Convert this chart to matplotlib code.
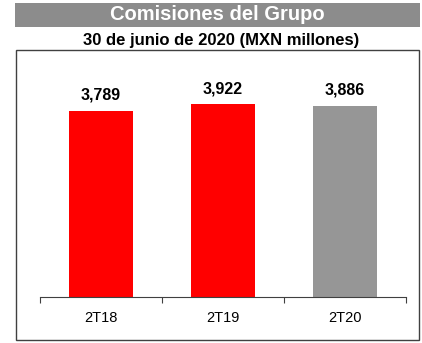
import matplotlib.pyplot as plt
from matplotlib.patches import Rectangle

# data
quarters = ["2T18", "2T19", "2T20"]
commissions = [3789, 3922, 3886]
bar_colors = ["#FF0000", "#FF0000", "#969696"]

plt.rcParams["font.family"] = ["Liberation Sans", "DejaVu Sans"]

fig = plt.figure(figsize=(4.22, 3.43), dpi=100)
W, H = 422, 343

# title banner
fig.patches.append(Rectangle((15 / W, 1 - 27 / H), 405 / W, 24 / H,
                             transform=fig.transFigure, facecolor="#8c8c8c",
                             edgecolor="none"))
fig.text(217 / W, 1 - 15 / H, "Comisiones del Grupo", color="white",
         fontsize=14.5, fontweight="bold", ha="center", va="center")
fig.text(221 / W, 1 - 41 / H, "30 de junio de 2020 (MXN millones)",
         fontsize=12, fontweight="bold", ha="center", va="center")

# outer frame
fig.patches.append(Rectangle((16 / W, 3 / H), 403 / W, (340 - 50) / H,
                             transform=fig.transFigure, facecolor="none",
                             edgecolor="#404040", lw=1))

ax = fig.add_axes([40 / W, 46 / H, 366 / W, (297 - 58) / H])
x = range(len(quarters))
bars = ax.bar(x, commissions, width=0.52, color=bar_colors)
for xi, v in zip(x, commissions):
    ax.text(xi, v + 170, f"{v:,}", ha="center", va="bottom",
            fontsize=11.5, fontweight="bold")

ax.set_xlim(-0.5, 2.5)
ax.set_ylim(0, 4867)
for s in ["top", "right", "left"]:
    ax.spines[s].set_visible(False)
ax.spines["bottom"].set_color("#404040")
ax.set_yticks([])
ax.set_xticks([-0.5, 0.5, 1.5, 2.5])
ax.set_xticklabels([])
ax.tick_params(axis="x", length=4, color="#404040", direction="out")
ax.set_xticks(list(x), minor=True)
ax.set_xticklabels(quarters, minor=True, fontsize=10.5)
ax.tick_params(axis="x", which="minor", length=0, pad=10)

fig.savefig("out.png", dpi=100)
